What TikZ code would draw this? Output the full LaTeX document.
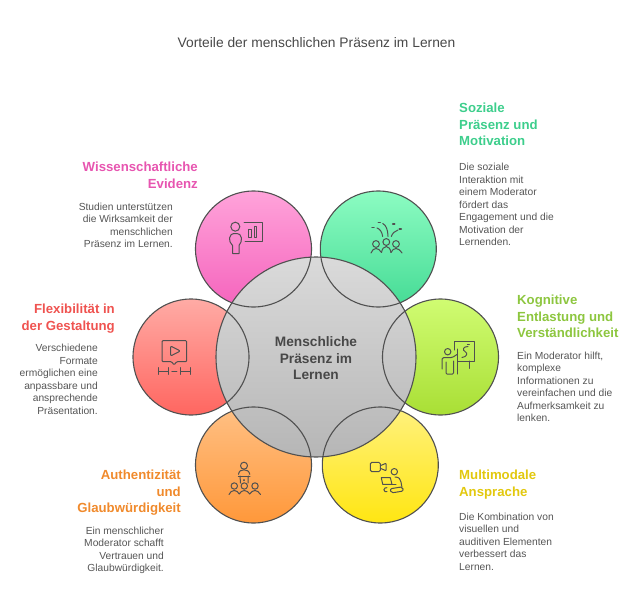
\documentclass[tikz,border=0pt]{standalone}
\usepackage{fontspec}
\setmainfont{Liberation Sans}

\definecolor{inktext}{HTML}{555555}
\definecolor{inkline}{HTML}{505050}
\definecolor{headpink}{HTML}{E755B0}
\definecolor{headgreen}{HTML}{3DCE8C}
\definecolor{headred}{HTML}{EF5350}
\definecolor{headlime}{HTML}{8DC63F}
\definecolor{headorange}{HTML}{F08A2C}
\definecolor{headyellow}{HTML}{E2C80E}
\definecolor{pinktop}{HTML}{FFA3DA}
\definecolor{pinkbot}{HTML}{F564BD}
\definecolor{greentop}{HTML}{8CFCC2}
\definecolor{greenbot}{HTML}{45DB95}
\definecolor{redtop}{HTML}{FFABA5}
\definecolor{redbot}{HTML}{FF6660}
\definecolor{limetop}{HTML}{D0FC72}
\definecolor{limebot}{HTML}{A9DF35}
\definecolor{orangetop}{HTML}{FFC084}
\definecolor{orangebot}{HTML}{FF983A}
\definecolor{yellowtop}{HTML}{FFF17E}
\definecolor{yellowbot}{HTML}{FFE612}
\definecolor{hubtop}{HTML}{DADADA}
\definecolor{hubbot}{HTML}{B6B6B6}

\tikzset{
    petal/.style={circle, minimum size=116pt, inner sep=0pt, outer sep=0pt},
    petalline/.style={draw=inkline, line width=1.1pt},
    hubcircle/.style={circle, minimum size=200pt, inner sep=0pt, outer sep=0pt, top color=hubtop, bottom color=hubbot},
    hubtext/.style={font=\fontsize{13.7}{16.6}\selectfont\bfseries, text=inktext!85!black, align=center},
    titletext/.style={font=\fontsize{13.8}{15}\selectfont, text=inktext!85!black, inner sep=0pt},
    headleft/.style={font=\fontsize{13.2}{16.6}\selectfont\bfseries, align=right, anchor=north east, inner sep=0pt},
    headright/.style={font=\fontsize{13.2}{16.6}\selectfont\bfseries, align=left, anchor=north west, inner sep=0pt},
    bodyleft/.style={font=\fontsize{10.25}{12.5}\selectfont, text=inktext, align=right, anchor=north east, inner sep=0pt},
    bodyright/.style={font=\fontsize{10.25}{12.5}\selectfont, text=inktext, align=left, anchor=north west, inner sep=0pt},
    iconline/.style={draw=inkline, line width=1pt, line cap=round, line join=round}
}

\begin{document}
\begin{tikzpicture}[x=1pt, y=-1pt]
    \useasboundingbox (0,0) rectangle (640,607);
    \def\petalr{58}

    % Petals, then the hub, then the petal outlines over the hub
    \foreach \name/\cx/\cy/\ctop/\cbot in {
        evidence/253.5/249/pinktop/pinkbot,
        social/378.3/249/greentop/greenbot,
        flexible/191/357/redtop/redbot,
        cognitive/440.5/357/limetop/limebot,
        authentic/253.5/465/orangetop/orangebot,
        modal/380.3/465/yellowtop/yellowbot%
    } {
        \node[petal, top color=\ctop, bottom color=\cbot] (\name) at (\cx,\cy) {};
    }

    \node[hubcircle] (hub) at (316,357) {};
    \draw[petalline] (hub.center) circle (100);

    \foreach \name in {evidence, social, flexible, cognitive, authentic, modal} {
        \draw[petalline] (\name.center) circle (\petalr);
    }
    \node[hubtext] (hublabel) at (316,358.5) {Menschliche\\Präsenz im\\Lernen};

    % Title
    \node[titletext] (title) at (316.5,42.5) {Vorteile der menschlichen Präsenz im Lernen};

    % Texts on the left
    \node[headleft, text=headpink] (evidencehead) at (198,162) {Wissenschaftliche\\Evidenz};
    \node[bodyleft] (evidencebody) at (173,202.5) {Studien unterstützen\\die Wirksamkeit der\\menschlichen\\Präsenz im Lernen.};
    \node[headleft, text=headred] (flexiblehead) at (115,304) {Flexibilität in\\der Gestaltung};
    \node[bodyleft] (flexiblebody) at (98,344) {Verschiedene\\Formate\\ermöglichen eine\\anpassbare und\\ansprechende\\Präsentation.};
    \node[headleft, text=headorange] (authentichead) at (181,470) {Authentizität\\und\\Glaubwürdigkeit};
    \node[bodyleft] (authenticbody) at (164,526.5) {Ein menschlicher\\Moderator schafft\\Vertrauen und\\Glaubwürdigkeit.};

    % Texts on the right
    \node[headright, text=headgreen] (socialhead) at (459,103) {Soziale\\Präsenz und\\Motivation};
    \node[bodyright] (socialbody) at (459,163) {Die soziale\\Interaktion mit\\einem Moderator\\fördert das\\Engagement und die\\Motivation der\\Lernenden.};
    \node[headright, text=headlime] (cognitivehead) at (517,295) {Kognitive\\Entlastung und\\Verständlichkeit};
    \node[bodyright] (cognitivebody) at (517,351.5) {Ein Moderator hilft,\\komplexe\\Informationen zu\\vereinfachen und die\\Aufmerksamkeit zu\\lenken.};
    \node[headright, text=headyellow] (modalhead) at (459,470) {Multimodale\\Ansprache};
    \node[bodyright] (modalbody) at (459,512.5) {Die Kombination von\\visuellen und\\auditiven Elementen\\verbessert das\\Lernen.};

    % Icon: person with chart
    \draw[iconline] (235.3,226.7) circle (4.5);
    \draw[iconline] (232.5,253.5) -- (232.5,245.5) .. controls (230,243) and (229.5,241) .. (229.5,238) .. controls (229.5,235) and (232,233.5) .. (235.3,233.5) .. controls (239,233.5) and (241.5,235) .. (241.5,238) .. controls (241.5,241) and (241,243) .. (239,245.5) -- (239,253.5) -- cycle;
    \draw[iconline] (244,222.7) -- (262.7,222.7) -- (262.7,241.3) -- (245,241.3);
    \draw[iconline] (248.7,229.8) rectangle (251.3,237);
    \draw[iconline] (254,226.5) rectangle (256.7,237);

    % Icon: group with sparks
    \foreach \hx/\hy in {376/244, 386.3/242, 396/244} {
        \draw[iconline] (\hx,\hy) circle (3.4);
    }
    \draw[iconline] (371,253) .. controls (372,250) and (374,248.5) .. (376,248.5) .. controls (378,248.5) and (380,250) .. (381.5,252.5);
    \draw[iconline] (381.5,252.5) .. controls (382,249) and (384,246.5) .. (386.3,246.5) .. controls (388.5,246.5) and (390.5,249) .. (391,252.5);
    \draw[iconline] (391,252.5) .. controls (392,250) and (394,248.5) .. (396,248.5) .. controls (398,248.5) and (400,250) .. (402,253);
    \foreach \sx/\sy in {373/227.3, 379.3/222.3, 393.7/224, 400.3/229} {
        \draw[iconline, line width=1.5pt] (\sx-1,\sy) -- (\sx+1,\sy);
    }
    \draw[iconline] (377,228) .. controls (380,229) and (382,232) .. (382.7,236.5);
    \draw[iconline] (382.7,223.5) .. controls (386,225) and (388,230) .. (388,236.5);
    \draw[iconline] (398,230) .. controls (395,231) and (392.5,233) .. (391.3,236.5);

    % Icon: video with timeline
    \draw[iconline, rounded corners=1pt] (162,340.7) -- (186.7,340.7) -- (186.7,361.7) -- (176.7,361.7) -- (174,365) -- (171.7,361.7) -- (162,361.7) -- cycle;
    \draw[iconline, rounded corners=1pt] (170.7,346) -- (180.3,351) -- (170.7,356) -- cycle;
    \draw[iconline] (158.3,367.7) -- (158.3,374.3) (168.3,367.7) -- (168.3,374.3) (158.3,371) -- (168.3,371);
    \draw[iconline] (171.8,371) -- (176.8,371);
    \draw[iconline] (180.7,367.7) -- (180.7,374.3) (190.7,367.7) -- (190.7,374.3) (180.7,371) -- (190.7,371);

    % Icon: moderator at the board
    \draw[iconline] (447.7,351.7) circle (3.2);
    \draw[iconline, rounded corners=1.5pt] (442,369) -- (442,357.7) -- (452,357.7) -- (457,354.5);
    \draw[iconline, rounded corners=1pt] (446,362) -- (446,374) -- (453.5,374) -- (453.5,361);
    \draw[iconline] (457.3,349) -- (457.3,374);
    \draw[iconline] (454.3,350) -- (454.3,341.7) -- (474.3,341.7) -- (474.3,361) -- (458,361);
    \draw[iconline] (469.3,361) -- (469.3,368.3);
    \draw[iconline] (468,346.5) .. controls (463,346.5) and (462,350) .. (465,351.5) .. controls (468,353) and (467,357) .. (462,357.5);
    \draw[iconline, line width=1.3pt] (467.5,344.3) -- (469.2,344.3);

    % Icon: moderator and audience
    \draw[iconline] (244,465.7) circle (3.5);
    \draw[iconline] (238.5,474.3) .. controls (239,471) and (241,469.8) .. (244,469.8) .. controls (247,469.8) and (249,471) .. (249.8,474.3);
    \draw[iconline] (238.3,476) -- (250,476);
    \draw[iconline] (240,476) -- (240.5,483) (248.3,476) -- (248,483);
    \draw[iconline, line width=1.2pt] (244,479.8) -- (244,480.4);
    \foreach \hx in {234.3, 244.3, 255} {
        \draw[iconline] (\hx,486) circle (3.2);
    }
    \draw[iconline] (229,494.5) .. controls (230,492) and (232,490.5) .. (234.3,490.5) .. controls (236.5,490.5) and (238,492) .. (239.3,494) .. controls (240.5,492) and (242,490.5) .. (244.3,490.5) .. controls (246.5,490.5) and (248.5,492) .. (249.7,494) .. controls (251,492) and (253,490.5) .. (255,490.5) .. controls (257,490.5) and (259,492) .. (260.5,494.5);

    % Icon: camera and learner
    \draw[iconline, rounded corners=1.5pt] (370.3,462.3) rectangle (380.3,471.7);
    \draw[iconline, rounded corners=0.6pt] (380.3,465.7) -- (386,463.3) -- (386,470.7) -- (380.3,468.3);
    \draw[iconline] (394.3,471.7) circle (3.2);
    \draw[iconline] (381.3,477.7) -- (390.3,477.7) -- (392,484.3) -- (382.7,484.3) -- cycle;
    \draw[iconline] (395,477) .. controls (399,477) and (400.5,479) .. (401,482) -- (402,487.5);
    \draw[iconline] (392,484.3) -- (396,484.3);
    \draw[iconline, rounded corners=2pt] (390,488.8) -- (402.5,486.8) -- (403.5,491) -- (391,493) -- cycle;
    \draw[iconline] (387,487.7) -- (385,488) .. controls (383.5,488.5) and (383.5,491) .. (385,491.5) -- (387,491.7);
\end{tikzpicture}
\end{document}
